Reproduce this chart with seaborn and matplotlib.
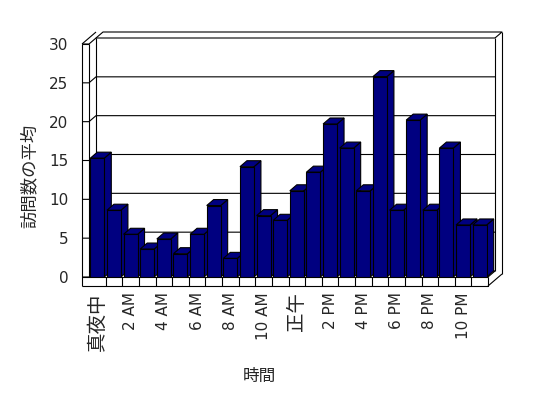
import pandas as pd
import seaborn as sns
import matplotlib.pyplot as plt
from matplotlib.patches import Polygon

# data
hours = ["真夜中", "1 AM", "2 AM", "3 AM", "4 AM", "5 AM", "6 AM", "7 AM",
         "8 AM", "9 AM", "10 AM", "11 AM", "正午", "1 PM", "2 PM", "3 PM",
         "4 PM", "5 PM", "6 PM", "7 PM", "8 PM", "9 PM", "10 PM", "11 PM"]
visits = [15.3, 8.6, 5.5, 3.6, 4.9, 3.0, 5.5, 9.2, 2.4, 14.2, 7.9, 7.3,
          11.1, 13.5, 19.7, 16.6, 11.1, 25.8, 8.6, 20.2, 8.6, 16.6, 6.7, 6.7]
yticks = [0, 5, 10, 15, 20, 25, 30]
tick_labels = [h if i % 2 == 0 else "" for i, h in enumerate(hours)]

sns.set_style("white")
# DejaVu for latin/digits, Noto CJK picks up the Japanese glyphs
plt.rcParams['font.family'] = ['DejaVu Sans', 'Noto Sans CJK JP']

fig = plt.figure(figsize=(5.48, 3.98), dpi=100)
ax = fig.add_axes([89 / 548, 121 / 398, 399 / 548, 233 / 398])
ax.set_facecolor('none')

df = pd.DataFrame({'hour': hours, 'visits': visits})
sns.barplot(data=df, x='hour', y='visits', order=hours, color='#000080',
            saturation=1, edgecolor='black', linewidth=0.8, width=0.84, ax=ax)

ax.set_xlim(-0.5, len(hours) - 0.5)
ax.set_ylim(0, 30)
for s in ax.spines.values():
    s.set_visible(False)

# pixel -> data conversion for the fake 3D depth
p0 = ax.transData.transform((0, 0))
p1 = ax.transData.transform((1, 1))
ux = 1 / (p1[0] - p0[0])
uy = 1 / (p1[1] - p0[1])
DX, DY = 7, 6  # depth in pixels


def pt(x, y, dx=0, dy=0):
    return (x + dx * ux, y + dy * uy)


def line(pts, z=1):
    xs, ys = zip(*pts)
    ax.plot(xs, ys, color='black', lw=0.8, clip_on=False, zorder=z,
            solid_capstyle='butt')


L, R = -0.5, len(hours) - 0.5
top = yticks[-1]

# back wall, left wall and gridlines
for y in yticks:
    line([pt(L, y, -DX, 0), pt(L, y), pt(L, y, DX, DY), pt(R, y, DX, DY)])
line([pt(L, 0, DX, DY), pt(L, top, DX, DY)])
line([pt(R, 0, DX, DY), pt(R, top, DX, DY)])
line([pt(L, top, DX, DY), pt(L, top, 2 * DX, 2 * DY), pt(R, top, 2 * DX, 2 * DY),
      pt(R, top, DX, DY)])
line([pt(R, top, 2 * DX, 2 * DY), pt(R, 0, 2 * DX, 2 * DY - 9)])
line([pt(L, top, -DX, 0), pt(L, top, DX, 2 * DY)])
line([pt(L, top, -DX, 0), pt(L, top)])
line([pt(L, 0, -DX, -9), pt(L, top, -DX, 0)])
line([pt(L, 0), pt(L, top)])

# floor slab front face with category dividers
line([pt(L, 0, -DX, -9), pt(R, 0, 0, -9), pt(R, 0)])
line([pt(L, 0, -DX, 0), pt(R, 0)])
for k in range(1, len(hours)):
    line([pt(k - 0.5, 0, 0, -9), pt(k - 0.5, 0)])
line([pt(R, 0, 0, -9), pt(R, 0, 2 * DX, 2 * DY - 9)])
line([pt(R, 0), pt(R, 0, DX, DY)])

# 3D tops and sides for each bar
for i, p in enumerate(ax.patches):
    x0, w, h = p.get_x(), p.get_width(), p.get_height()
    z = 3 + i * 0.1
    p.set_zorder(z + 0.05)
    side = Polygon([pt(x0 + w, 0), pt(x0 + w, h), pt(x0 + w, h, DX, DY),
                    pt(x0 + w, 0, DX, DY)], closed=True, facecolor='#000080',
                   edgecolor='black', lw=0.8, zorder=z, clip_on=False)
    lid = Polygon([pt(x0, h), pt(x0 + w, h), pt(x0 + w, h, DX, DY),
                   pt(x0, h, DX, DY)], closed=True, facecolor='#000080',
                  edgecolor='black', lw=0.8, zorder=z, clip_on=False)
    ax.add_patch(side)
    ax.add_patch(lid)

ax.set_yticks(yticks)
ax.set_yticklabels([str(v) for v in yticks], fontsize=11)
ax.set_xticks(range(len(hours)))
ax.set_xticklabels(tick_labels, rotation=90, fontsize=11)
for t in ax.get_xticklabels():
    if t.get_text() in ("真夜中", "正午"):
        t.set_fontsize(14)
ax.tick_params(axis='y', length=0, pad=15)
ax.tick_params(axis='x', length=0, pad=11)

ax.set_xlabel("時間", fontsize=12, va='center')
ax.set_ylabel("訪問数の平均", fontsize=12.5, va='center')
ax.xaxis.set_label_coords(0.426, -0.425)
ax.yaxis.set_label_coords(-0.148, 0.433)

fig.savefig('out.png', dpi=100)
